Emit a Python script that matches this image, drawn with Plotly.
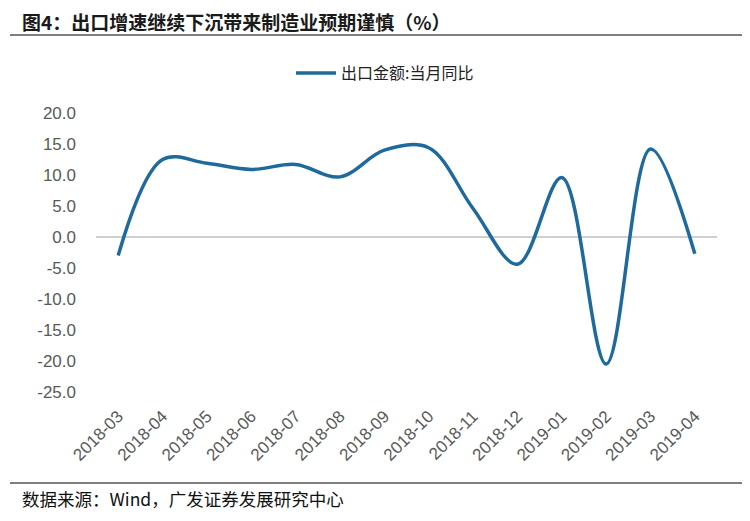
import plotly.graph_objects as go

months = ["2018-03", "2018-04", "2018-05", "2018-06", "2018-07", "2018-08", "2018-09",
          "2018-10", "2018-11", "2018-12", "2019-01", "2019-02", "2019-03", "2019-04"]
export_yoy = [-3.0, 12.5, 11.9, 10.9, 11.7, 9.7, 14.0, 14.4, 4.6, -4.4, 9.6, -20.5, 14.2, -2.7]
y_ticks = [20, 15, 10, 5, 0, -5, -10, -15, -20, -25]
series_name = "出口金额:当月同比"
title_text = "<b>图4：出口增速继续下沉带来制造业预期谨慎（%）</b>"
source_text = "数据来源：Wind，广发证券发展研究中心"

OFF = 8  # page body margin
W, H = 750 - OFF, 521 - OFF
plot_left, plot_right, plot_top, plot_bottom = 96 - OFF, 717 - OFF, 113 - OFF, 392 - OFF

fig = go.Figure()
fig.add_trace(go.Scatter(
    x=months, y=export_yoy, mode="lines", name=series_name,
    line=dict(color="#1F6A9C", width=3.5, shape="spline", smoothing=1.0),
))

fig.update_layout(
    width=W, height=H,
    margin=dict(l=plot_left, r=W - plot_right, t=plot_top, b=H - plot_bottom, autoexpand=False),
    paper_bgcolor="white", plot_bgcolor="white",
    showlegend=True,
    legend=dict(orientation="h", x=(385 - OFF) / W, xref="container", xanchor="center",
                y=1 - (73 - OFF) / H, yref="container", yanchor="middle",
                font=dict(family="Noto Sans CJK SC", size=16, color="#222222"),
                itemwidth=40),
    xaxis=dict(type="category", range=[-0.5, 13.5], showgrid=False, zeroline=False,
               showline=False, ticks="", tickangle=-45, automargin=False,
               ticklabelstandoff=10,
               tickfont=dict(family="Liberation Sans, Arial", size=17, color="#595959")),
    yaxis=dict(range=[-25, 20], tickvals=y_ticks, ticktext=[f"{v:.1f}" for v in y_ticks],
               showgrid=False, zeroline=True, zerolinecolor="#D0D0D0", zerolinewidth=1.5,
               showline=False, ticks="", automargin=False, ticklabelstandoff=19,
               tickfont=dict(family="Liberation Sans, Arial", size=17, color="#595959")),
)

pw = plot_right - plot_left
ph = plot_bottom - plot_top

def paper_x(sx):
    return (sx - OFF - plot_left) / pw

def paper_y(sy):
    return (plot_bottom - (sy - OFF)) / ph

fig.add_annotation(text=title_text, xref="paper", yref="paper",
                   x=paper_x(20), y=paper_y(22),
                   xanchor="left", yanchor="middle", showarrow=False,
                   font=dict(family="Noto Sans CJK SC", size=19, color="#1A1A1A"))
fig.add_annotation(text=source_text, xref="paper", yref="paper",
                   x=paper_x(20), y=paper_y(498),
                   xanchor="left", yanchor="middle", showarrow=False,
                   font=dict(family="Noto Sans CJK SC", size=17.5, color="#111111"))

fig.add_shape(type="line", xref="paper", yref="paper",
              x0=paper_x(10), x1=paper_x(750), y0=paper_y(35), y1=paper_y(35),
              line=dict(color="black", width=1.2))
fig.add_shape(type="line", xref="paper", yref="paper",
              x0=paper_x(10), x1=paper_x(750), y0=paper_y(483), y1=paper_y(483),
              line=dict(color="black", width=1.2))

fig.write_html("out.html")
